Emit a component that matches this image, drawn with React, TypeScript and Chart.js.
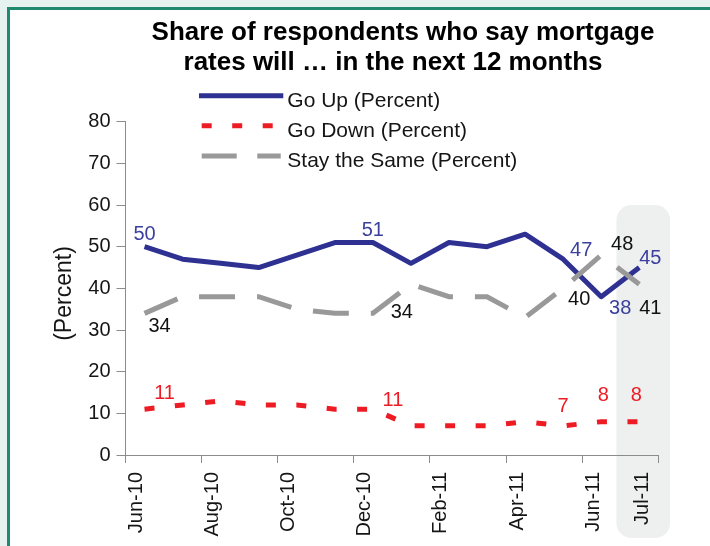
import React, { useEffect, useRef } from "react";
import { Chart, registerables } from "chart.js";

Chart.register(...registerables);

// ---------- data ----------
const months = [
  "Jun-10", "Jul-10", "Aug-10", "Sep-10", "Oct-10", "Nov-10", "Dec-10",
  "Jan-11", "Feb-11", "Mar-11", "Apr-11", "May-11", "Jun-11", "Jul-11",
];
const goUp = [50, 47, 46, 45, 48, 51, 51, 46, 51, 50, 53, 47, 38, 45];
const goDown = [11, 12, 13, 12, 12, 11, 11, 7, 7, 7, 8, 7, 8, 8];
const staySame = [34, 38, 38, 38, 35, 34, 34, 41, 38, 38, 33, 40, 48, 41];

const seriesNames = ["Go Up (Percent)", "Go Down (Percent)", "Stay the Same (Percent)"];
const tickValues = [0, 2, 4, 6, 8, 10, 12, 13.3, 14];
const tickLabels = ["Jun-10", "Aug-10", "Oct-10", "Dec-10", "Feb-11", "Apr-11", "Jun-11", "Jul-11", ""];
const yTicks = { min: 0, max: 80, step: 10 };
const titleLines = ["Share of respondents who say mortgage", "rates will \u2026 in the next 12 months"];
const yTitle = "(Percent)";

// ---------- styles ----------
const COLORS = {
  up: "#2e3192",
  upLabel: "#3b3f9e",
  down: "#ed1c24",
  same: "#999999",
  sameLabel: "#111111",
  axis: "#8c8c8c",
  text: "#151515",
  shade: "#eeefef",
};
const FONT = '"Liberation Sans", Arial, Helvetica, sans-serif';

// label placement: [pointIndex, dx, dy] (pixel offsets of label centre from point)
const labelPlacement: Record<number, [number, number, number][]> = {
  0: [[0, 0, -14], [6, 0, -14], [11, 18, -10], [12, 19, 10], [13, 11, -11]],
  1: [[0, 20, -17], [6, 20, -10], [11, 0, -21], [12, 2, -28], [13, -3, -28]],
  2: [[0, 15, 11], [6, 29, -3], [11, 16, 9], [12, 21, -12], [13, 11, 23]],
};
const labelColors = [COLORS.upLabel, COLORS.down, COLORS.sameLabel];

const decoPlugin = {
  id: "deco",
  beforeDraw(chart: any) {
    const { ctx, scales } = chart;
    const x = scales.x;
    const y = scales.y;
    const left = x.getPixelForValue(12.9);
    const right = x.getPixelForValue(14.31);
    const top = y.getPixelForValue(60);
    const bottom = chart.chartArea.bottom + 83;
    ctx.save();
    ctx.fillStyle = COLORS.shade;
    ctx.beginPath();
    if (ctx.roundRect) ctx.roundRect(left, top, right - left, bottom - top, 15);
    else ctx.rect(left, top, right - left, bottom - top);
    ctx.fill();
    ctx.restore();
  },
  afterDatasetsDraw(chart: any) {
    const { ctx } = chart;
    ctx.save();
    ctx.font = `20px ${FONT}`;
    ctx.textAlign = "center";
    ctx.textBaseline = "alphabetic";
    Object.keys(labelPlacement).forEach((k) => {
      const di = Number(k);
      const meta = chart.getDatasetMeta(di);
      const ds = chart.data.datasets[di];
      ctx.fillStyle = labelColors[di];
      labelPlacement[di].forEach(([idx, dx, dy]) => {
        const pt = meta.data[idx];
        if (!pt) return;
        const v = (ds.data[idx] as any).y;
        ctx.fillText(String(v), pt.x + dx, pt.y + dy + 7.2);
      });
    });
    ctx.restore();
  },
  afterDraw(chart: any) {
    const { ctx } = chart;
    ctx.save();
    // title
    ctx.fillStyle = "#000";
    ctx.font = `bold 26px ${FONT}`;
    ctx.textAlign = "center";
    ctx.textBaseline = "alphabetic";
    ctx.fillText(titleLines[0], 403, 40);
    ctx.fillText(titleLines[1], 393, 70);

    // legend
    const ds = chart.data.datasets;
    const rows = [
      { ds: ds[0], lineY: 95.7, textY: 106.7, x0: 199, x1: 283.3, dash: [] as number[] },
      { ds: ds[1], lineY: 125.7, textY: 136.7, x0: 201.7, x1: 272.7, dash: [10, 20.5] },
      { ds: ds[2], lineY: 156, textY: 166.7, x0: 201.7, x1: 280.7, dash: [35, 20.6] },
    ];
    rows.forEach((r) => {
      ctx.save();
      ctx.strokeStyle = r.ds.borderColor;
      ctx.lineWidth = 5;
      ctx.lineCap = "butt";
      ctx.setLineDash(r.dash);
      ctx.beginPath();
      ctx.moveTo(r.x0, r.lineY);
      ctx.lineTo(r.x1, r.lineY);
      ctx.stroke();
      ctx.restore();
      ctx.fillStyle = COLORS.text;
      ctx.font = `21px ${FONT}`;
      ctx.textAlign = "left";
      ctx.fillText(r.ds.label, 287.3, r.textY);
    });

    // y axis title
    ctx.save();
    ctx.translate(65, 293.5);
    ctx.rotate(-Math.PI / 2);
    ctx.font = `23px ${FONT}`;
    ctx.textAlign = "center";
    ctx.textBaseline = "middle";
    ctx.fillStyle = COLORS.text;
    ctx.fillText(yTitle, 0, 0);
    ctx.restore();

    ctx.restore();
  },
};

export default function App() {
  const canvasRef = useRef<HTMLCanvasElement | null>(null);

  useEffect(() => {
    if (!canvasRef.current) return;
    const toPts = (arr: number[]) => arr.map((v, i) => ({ x: i + 0.5, y: v }));
    const chart = new Chart(canvasRef.current, {
      type: "line",
      data: {
        labels: months,
        datasets: [
          {
            label: seriesNames[0],
            data: toPts(goUp),
            borderColor: COLORS.up,
            backgroundColor: COLORS.up,
            borderWidth: 5,
            pointRadius: 0,
            pointHoverRadius: 0,
            tension: 0,
            borderJoinStyle: "round",
            fill: false,
            order: 2,
          },
          {
            label: seriesNames[1],
            data: toPts(goDown),
            borderColor: COLORS.down,
            backgroundColor: COLORS.down,
            borderWidth: 5,
            borderDash: [10, 20.5],
            borderCapStyle: "butt",
            pointRadius: 0,
            pointHoverRadius: 0,
            tension: 0,
            fill: false,
            order: 1,
          },
          {
            label: seriesNames[2],
            data: toPts(staySame),
            borderColor: COLORS.same,
            backgroundColor: COLORS.same,
            borderWidth: 5,
            borderDash: [36, 22],
            borderCapStyle: "butt",
            pointRadius: 0,
            pointHoverRadius: 0,
            tension: 0,
            fill: false,
            order: 0,
          },
        ],
      },
      options: {
        animation: false,
        responsive: false,
        devicePixelRatio: 1,
        events: [],
        layout: { padding: { top: 121.7, right: 51.7, bottom: 0, left: 0 } },
        plugins: {
          legend: { display: false },
          title: { display: false },
          tooltip: { enabled: false },
        },
        scales: {
          x: {
            type: "linear",
            min: 0,
            max: 14,
            afterFit: (s: any) => {
              s.height = 91;
            },
            afterBuildTicks: (s: any) => {
              s.ticks = tickValues.map((v) => ({ value: v }));
            },
            grid: {
              drawOnChartArea: false,
              tickLength: 8,
              tickColor: (c: any) =>
                c.tick && c.tick.value === 13.3 ? "rgba(0,0,0,0)" : COLORS.axis,
            },
            border: { color: COLORS.axis, width: 1 },
            ticks: {
              autoSkip: false,
              minRotation: 90,
              maxRotation: 90,
              labelOffset: 11,
              padding: 9,
              color: COLORS.text,
              font: { family: FONT, size: 20 },
              callback: (value: any) => {
                const i = tickValues.indexOf(Number(value));
                return i >= 0 ? tickLabels[i] : "";
              },
            },
          },
          y: {
            type: "linear",
            min: yTicks.min,
            max: yTicks.max,
            afterFit: (s: any) => {
              s.width = 125.5;
            },
            grid: { drawOnChartArea: false, tickLength: 9, tickColor: COLORS.axis },
            border: { color: COLORS.axis, width: 1 },
            ticks: {
              stepSize: yTicks.step,
              padding: 6,
              color: COLORS.text,
              font: { family: FONT, size: 20 },
            },
          },
        },
      },
      plugins: [decoPlugin],
    });
    return () => chart.destroy();
  }, []);

  return (
    <div style={{ position: "absolute", left: 0, top: 0, width: 710, height: 546, background: "#e5f2ef", overflow: "hidden" }}>
      <div
        style={{
          position: "absolute",
          left: 7,
          top: 7,
          width: 710,
          height: 546,
          boxSizing: "border-box",
          borderLeft: "3px solid #1f8a6f",
          borderTop: "3px solid #1f8a6f",
          background: "#ffffff",
        }}
      />
      <canvas
        ref={canvasRef}
        width={710}
        height={546}
        style={{ position: "absolute", left: 0, top: 0, width: 710, height: 546 }}
      />
    </div>
  );
}
